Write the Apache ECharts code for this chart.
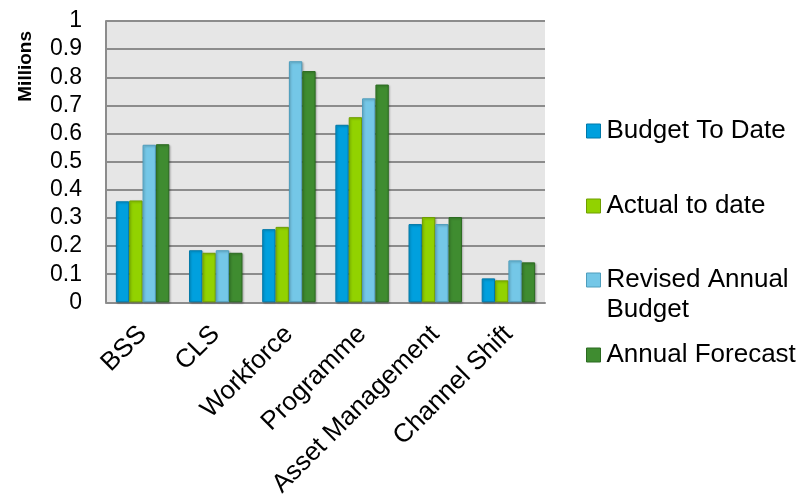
<!DOCTYPE html>
<html>
<head>
<meta charset="utf-8">
<script src="https://cdn.jsdelivr.net/npm/echarts@6/dist/echarts.min.js"></script>
<style>html,body{margin:0;padding:0;background:#fff;}#c{width:803px;height:500px;}</style>
</head>
<body>
<div id="c"></div>
<script>
const categories = ['BSS', 'CLS', 'Workforce', 'Programme', 'Asset Management', 'Channel Shift'];
const budgetToDate = [0.359, 0.185, 0.260, 0.631, 0.278, 0.085];
const actualToDate = [0.362, 0.176, 0.268, 0.658, 0.303, 0.078];
const revisedAnnualBudget = [0.560, 0.185, 0.857, 0.725, 0.278, 0.149];
const annualForecast = [0.562, 0.176, 0.822, 0.774, 0.303, 0.142];
const yTicks = [0, 0.1, 0.2, 0.3, 0.4, 0.5, 0.6, 0.7, 0.8, 0.9, 1];
const seriesNames = ['Budget To Date', 'Actual to date', 'Revised Annual Budget', 'Annual Forecast'];

const FONT = '"Liberation Sans", Arial, sans-serif';
const fills = ['#00A0DE', '#92D200', '#74C7E7', '#3F8C30'];
const borders = ['#0078A8', '#6E9E00', '#4E9DBC', '#2B6A20'];
const seriesData = [budgetToDate, actualToDate, revisedAnnualBudget, annualForecast];

const chart = echarts.init(document.getElementById('c'), null, {renderer: 'canvas'});

const legendCenters = [131, 206, 280, 355];
const legends = seriesNames.map((n, i) => {
  const multi = n === 'Revised Annual Budget';
  return {
    orient: 'vertical',
    left: 586,
    top: multi ? legendCenters[i] - 45 : legendCenters[i] - 15,
    padding: 0,
    itemWidth: 14,
    itemHeight: 14,
    itemGap: 0,
    icon: 'rect',
    data: [n],
    formatter: multi ? ' \nRevised Annual\nBudget' : '{name}',
    textStyle: {fontFamily: FONT, fontSize: 26, color: '#000', lineHeight: 30, padding: [0, 0, 0, 1]},
    itemStyle: {borderColor: borders[i], borderWidth: 1}
  };
});

chart.setOption({
  backgroundColor: '#ffffff',
  animation: false,
  grid: {left: 106, right: 258, top: 21, bottom: 194, containLabel: false,
         show: true, backgroundColor: '#E6E6E6', borderWidth: 0},
  legend: legends,
  graphic: [{
    type: 'text',
    left: 16,
    top: 31,
    rotation: Math.PI / 2,
    style: {text: 'Millions', fontFamily: FONT, fontWeight: 'bold', fontSize: 19, fill: '#000'}
  }],
  xAxis: {
    type: 'category',
    data: categories,
    axisLine: {show: true, lineStyle: {color: '#8C8C8C', width: 2}},
    axisTick: {show: false},
    axisLabel: {rotate: 45, fontFamily: FONT, fontSize: 26, color: '#000', margin: 28, interval: 0}
  },
  yAxis: {
    type: 'value',
    min: yTicks[0],
    max: yTicks[yTicks.length - 1],
    interval: 0.1,
    axisLine: {show: true, lineStyle: {color: '#8C8C8C', width: 2}},
    axisTick: {show: false},
    splitLine: {show: true, lineStyle: {color: '#8C8C8C', width: 2}},
    axisLabel: {fontFamily: FONT, fontSize: 23, color: '#000', margin: 24,
      formatter: v => { const t = yTicks.find(x => Math.abs(x - v) < 1e-9); return t === undefined ? '' : String(t); }}
  },
  series: seriesNames.map((n, i) => ({
    name: n,
    type: 'bar',
    data: seriesData[i],
    barGap: '0%',
    barCategoryGap: '27%',
    itemStyle: {color: fills[i], borderColor: borders[i], borderWidth: 1,
                shadowColor: 'rgba(0,0,0,0.25)', shadowBlur: 2, shadowOffsetX: 1, shadowOffsetY: 1}
  }))
});
</script>
</body>
</html>
